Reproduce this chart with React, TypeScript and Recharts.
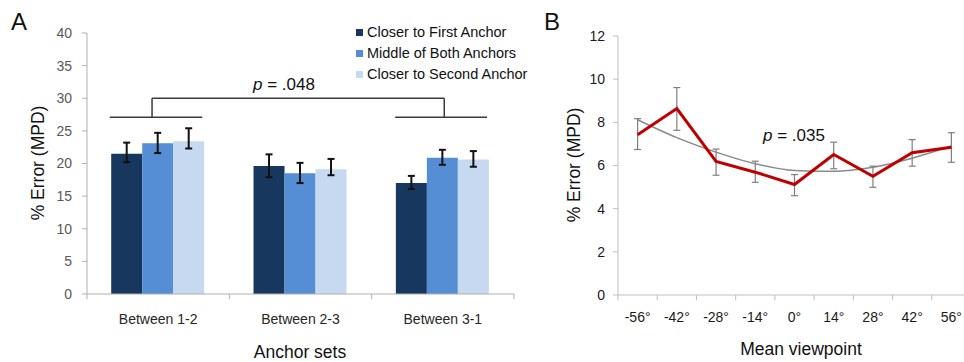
import React from 'react';
import { BarChart, Bar, XAxis, YAxis, ErrorBar, ReferenceLine, ComposedChart, Line } from 'recharts';

// Panel A data
const anchorSets = ['Between 1-2', 'Between 2-3', 'Between 3-1'];
const closerFirst = [21.5, 19.6, 17.0];
const closerFirstErr = [[1.3, 1.7], [1.7, 1.8], [0.9, 1.1]];
const middleBoth = [23.1, 18.5, 20.9];
const middleBothErr = [[1.5, 1.6], [1.5, 1.6], [1.1, 1.2]];
const closerSecond = [23.4, 19.1, 20.6];
const closerSecondErr = [[1.1, 2.0], [0.9, 1.6], [1.1, 1.3]];
const yTicksA = [0, 5, 10, 15, 20, 25, 30, 35, 40];

// Panel B data
const viewpoints = ['-56°', '-42°', '-28°', '-14°', '0°', '14°', '28°', '42°', '56°'];
const meanError = [7.43, 8.64, 6.19, 5.69, 5.12, 6.51, 5.5, 6.59, 6.85];
const meanErrorErr = [[0.69, 0.74], [1.01, 0.97], [0.64, 0.57], [0.47, 0.51], [0.52, 0.46], [0.66, 0.57], [0.51, 0.47], [0.62, 0.61], [0.7, 0.67]];
const trend = [8.12, 7.29, 6.62, 6.08, 5.77, 5.73, 5.92, 6.34, 6.9];
const yTicksB = [0, 2, 4, 6, 8, 10, 12];

const colors = ['#17375E', '#558ED5', '#C6D9F1'];
const seriesNames = ['Closer to First Anchor', 'Middle of Both Anchors', 'Closer to Second Anchor'];

const dataA = anchorSets.map((name, i) => ({
  name,
  first: closerFirst[i],
  firstErr: closerFirstErr[i],
  middle: middleBoth[i],
  middleErr: middleBothErr[i],
  second: closerSecond[i],
  secondErr: closerSecondErr[i],
}));

const dataB = viewpoints.map((name, i) => ({
  name,
  value: meanError[i],
  err: meanErrorErr[i],
  trend: trend[i],
}));

const FONT = 'Arial, "Liberation Sans", sans-serif';

const bracketColor = '#3a3a3a';

export default function App() {
  return (
    <div style={{ position: 'absolute', left: 0, top: 0, width: 964, height: 362, overflow: 'hidden', background: '#fff', fontFamily: FONT }}>
      {/* Panel A */}
      <div style={{ position: 'absolute', left: 0, top: 0 }}>
        <BarChart width={560} height={362} data={dataA} margin={{ top: 33, right: 46, bottom: 0, left: 0 }} barGap={0} barCategoryGap="17%">
          <XAxis dataKey="name" tickLine={false} tickSize={0} tickMargin={20} axisLine={{ stroke: '#b0b0b0' }}
            tick={{ fill: '#262626', fontSize: 14, fontFamily: FONT }} height={68} />
          <XAxis xAxisId="num" dataKey="slot" type="number" domain={[0, 3]} allowDataOverflow hide />
          <YAxis domain={[0, 40]} ticks={yTicksA} width={87} tickSize={5} tickMargin={10} interval={0}
            axisLine={{ stroke: '#b0b0b0' }} tickLine={{ stroke: '#b0b0b0' }}
            tick={{ fill: '#595959', fontSize: 14, fontFamily: FONT }} />
          <Bar dataKey="first" fill={colors[0]} isAnimationActive={false}>
            <ErrorBar dataKey="firstErr" width={3.5} stroke="#111" strokeWidth={2} />
          </Bar>
          <Bar dataKey="middle" fill={colors[1]} isAnimationActive={false}>
            <ErrorBar dataKey="middleErr" width={3.5} stroke="#111" strokeWidth={2} />
          </Bar>
          <Bar dataKey="second" fill={colors[2]} isAnimationActive={false}>
            <ErrorBar dataKey="secondErr" width={3.5} stroke="#111" strokeWidth={2} />
          </Bar>
          {[0, 1, 2, 3].map((i) => (
            <ReferenceLine key={'tk' + i} xAxisId="num" ifOverflow="visible" stroke="#b0b0b0"
              segment={[{ x: i, y: 0 }, { x: i, y: -0.8 }]} />
          ))}
          <ReferenceLine xAxisId="num" ifOverflow="visible" stroke={bracketColor} strokeWidth={1.5}
            segment={[{ x: 0.16, y: 27.1 }, { x: 0.81, y: 27.1 }]} />
          <ReferenceLine xAxisId="num" ifOverflow="visible" stroke={bracketColor} strokeWidth={1.5}
            segment={[{ x: 0.457, y: 27.1 }, { x: 0.457, y: 30 }]} />
          <ReferenceLine xAxisId="num" ifOverflow="visible" stroke={bracketColor} strokeWidth={1.5}
            segment={[{ x: 0.457, y: 30 }, { x: 2.51, y: 30 }]} />
          <ReferenceLine xAxisId="num" ifOverflow="visible" stroke={bracketColor} strokeWidth={1.5}
            segment={[{ x: 2.51, y: 30 }, { x: 2.51, y: 27.1 }]} />
          <ReferenceLine xAxisId="num" ifOverflow="visible" stroke={bracketColor} strokeWidth={1.5}
            segment={[{ x: 2.165, y: 27.1 }, { x: 2.81, y: 27.1 }]} />
        </BarChart>
      </div>

      {/* Panel B */}
      <div style={{ position: 'absolute', left: 560, top: 0 }}>
        <ComposedChart width={420} height={362} data={dataB} margin={{ top: 36, right: 9, bottom: 0, left: 0 }}>
          <XAxis dataKey="name" scale="band" tickLine={false} tickSize={0} tickMargin={17} axisLine={{ stroke: '#bfbfbf' }}
            tick={{ fill: '#1a1a1a', fontSize: 14, fontFamily: FONT }} height={67} interval={0} />
          <XAxis xAxisId="num" dataKey="slot" type="number" domain={[0, 9]} allowDataOverflow hide />
          <YAxis domain={[0, 12]} ticks={yTicksB} width={58} tickSize={5} tickMargin={8} interval={0}
            axisLine={{ stroke: '#bfbfbf' }} tickLine={{ stroke: '#bfbfbf' }}
            tick={{ fill: '#1a1a1a', fontSize: 14, fontFamily: FONT }} />
          {[0, 1, 2, 3, 4, 5, 6, 7, 8, 9].map((i) => (
            <ReferenceLine key={'tkb' + i} xAxisId="num" ifOverflow="visible" stroke="#bfbfbf"
              segment={[{ x: i, y: 0 }, { x: i, y: -0.25 }]} />
          ))}
          <Line dataKey="trend" type="monotone" stroke="#8a8a8a" strokeWidth={1.5} dot={false} isAnimationActive={false} />
          <Line dataKey="value" type="linear" stroke="#C00000" strokeWidth={3} dot={false} isAnimationActive={false}>
            <ErrorBar dataKey="err" width={3.5} stroke="#7f7f7f" strokeWidth={1.2} />
          </Line>
        </ComposedChart>
      </div>

      {/* Panel labels */}
      <div style={{ position: 'absolute', left: 11, top: 8, fontSize: 24, color: '#111', lineHeight: '28px' }}>A</div>
      <div style={{ position: 'absolute', left: 544, top: 8, fontSize: 24, color: '#111', lineHeight: '28px' }}>B</div>

      {/* Legend */}
      <div style={{ position: 'absolute', left: 356, top: 22, fontSize: 14.5, color: '#111', lineHeight: '21px' }}>
        {seriesNames.map((n, i) => (
          <div key={n} style={{ display: 'flex', alignItems: 'center', height: 21 }}>
            <span style={{ display: 'inline-block', width: 7, height: 7, background: colors[i], marginRight: 4 }} />
            <span>{n}</span>
          </div>
        ))}
      </div>

      {/* p-values */}
      <div style={{ position: 'absolute', left: 253, top: 75, fontSize: 17, color: '#111', lineHeight: '20px', whiteSpace: 'nowrap' }}>
        <i>p</i> = .048
      </div>
      <div style={{ position: 'absolute', left: 763, top: 126, fontSize: 17, color: '#111', lineHeight: '20px', whiteSpace: 'nowrap' }}>
        <i>p</i> = .035
      </div>

      {/* Axis titles */}
      <div style={{ position: 'absolute', left: 300, top: 340, transform: 'translateX(-50%)', fontSize: 17.5, color: '#111', lineHeight: '24px', whiteSpace: 'nowrap' }}>
        Anchor sets
      </div>
      <div style={{ position: 'absolute', left: 801, top: 337, transform: 'translateX(-50%)', fontSize: 17.5, color: '#111', lineHeight: '24px', whiteSpace: 'nowrap' }}>
        Mean viewpoint
      </div>
      <div style={{ position: 'absolute', left: 38, top: 163, transform: 'translate(-50%, -50%) rotate(-90deg)', fontSize: 17.5, color: '#111', lineHeight: '22px', whiteSpace: 'nowrap' }}>
        % Error (MPD)
      </div>
      <div style={{ position: 'absolute', left: 574, top: 165, transform: 'translate(-50%, -50%) rotate(-90deg)', fontSize: 17.5, color: '#111', lineHeight: '22px', whiteSpace: 'nowrap' }}>
        % Error (MPD)
      </div>
    </div>
  );
}
